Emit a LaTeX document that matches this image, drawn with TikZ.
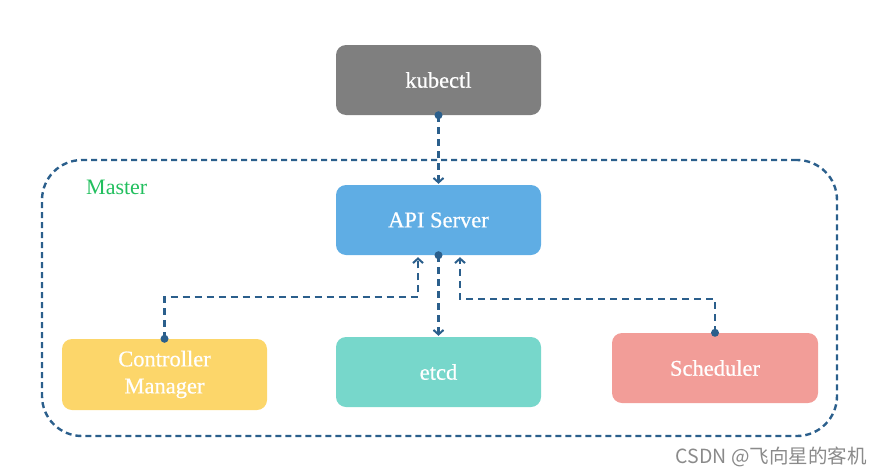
\documentclass[tikz,border=0pt]{standalone}
\usepackage{fontspec}
\setmainfont{Liberation Serif}
\newfontfamily\boxfont[FakeBold=0.6]{Liberation Serif}
\newfontfamily\cjk{Noto Sans CJK SC}
\usetikzlibrary{arrows.meta,calc}
\definecolor{kgray}{HTML}{7F7F7F}
\definecolor{apiblue}{HTML}{5FADE4}
\definecolor{cmyellow}{HTML}{FCD66A}
\definecolor{etcdteal}{HTML}{77D7CB}
\definecolor{schsalmon}{HTML}{F29D98}
\definecolor{lineblue}{HTML}{2B5F8C}
\definecolor{mastergreen}{HTML}{22BF5E}
\definecolor{wmgray}{HTML}{8A8A8A}
\tikzset{
  box/.style={rectangle, rounded corners=10pt, minimum width=205pt, minimum height=70pt,
    text=white, font=\boxfont\fontsize{22.5}{27}\selectfont, align=center, inner sep=0pt},
  conn/.style={draw=lineblue, line width=2.4pt, dash pattern=on 7pt off 5pt,
    -{Straight Barb[length=4.5pt,width=10pt,line width=2pt]}},
  dotc/.style={fill=lineblue},
}
\begin{document}
\begin{tikzpicture}[x=1pt,y=-1pt]
\useasboundingbox (0,0) rectangle (883,474);
\node[draw=lineblue, line width=2.4pt, dash pattern=on 6pt off 4pt, rounded corners=40pt,
  minimum width=795pt, minimum height=276pt, inner sep=0pt] (master) at (439.5,298) {};
\node[text=mastergreen, font=\fontsize{22}{25}\selectfont, anchor=west, inner sep=0pt] (mlabel) at (86,187) {Master};
\node[box, fill=kgray] (kubectl) at (438.5,80) {kubectl};
\node[box, fill=apiblue] (api) at (438.5,220) {API Server};
\node[box, fill=cmyellow, minimum height=71pt] (cm) at (164.5,374.5) {Controller\\Manager};
\node[box, fill=etcdteal] (etcd) at (438.5,372) {etcd};
\node[box, fill=schsalmon, minimum width=206pt] (sch) at (715,368) {Scheduler};
\node[text=wmgray, font=\cjk\fontsize{19.5}{22}\selectfont, anchor=east, inner sep=0pt] (wm) at (867,457) {CSDN @飞向星的客机};
% connectors
\coordinate (apiL) at ($(api.south)+(-20.5,2)$);
\coordinate (apiR) at ($(api.south)+(21.5,2)$);
\coordinate (apiM) at (api.south);
\draw[conn, shorten >=1pt] (kubectl.south) -- (api.north);
\fill[dotc] (kubectl.south) circle (4pt);
\draw[conn] (cm.north) |- (418,297) -- (apiL);
\fill[dotc] (cm.north) circle (4pt);
\draw[conn, shorten >=1pt] (apiM) -- (etcd.north);
\fill[dotc] (apiM) circle (4pt);
\draw[conn] (sch.north) |- (460,299) -- (apiR);
\fill[dotc] (sch.north) circle (4pt);
\end{tikzpicture}
\end{document}
